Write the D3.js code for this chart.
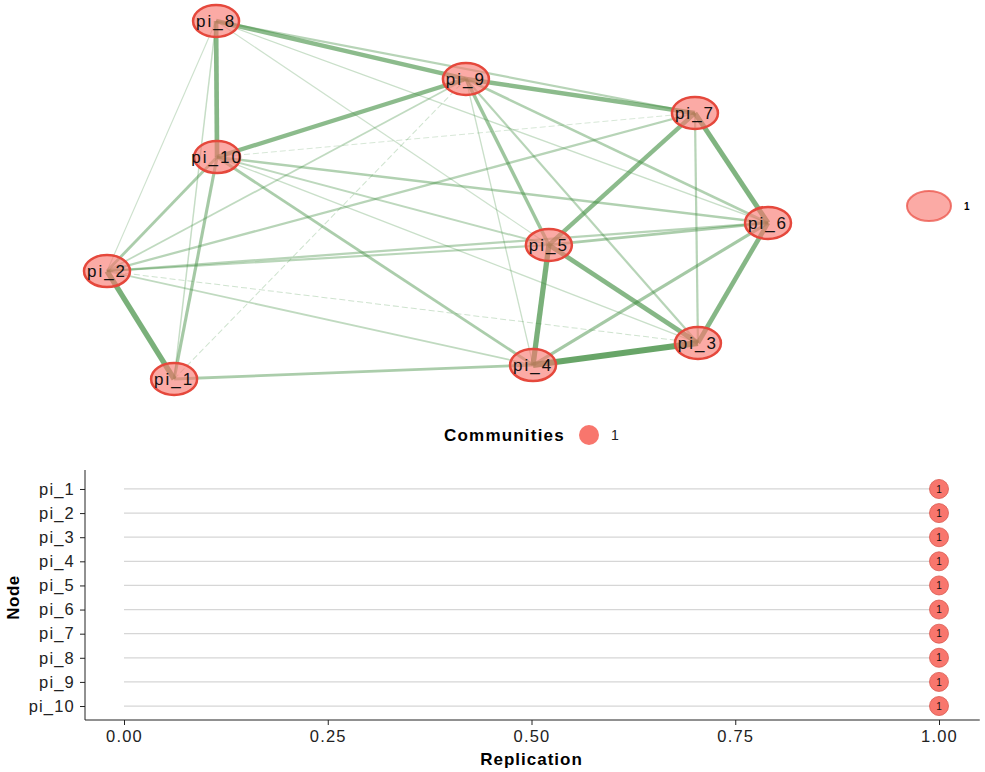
<!DOCTYPE html>
<html lang="en">
    <head>
        <meta charset="utf-8">
        <title>Network and replication</title>
        <script src="https://d3js.org/d3.v7.min.js"></script>
        <style type="text/css">
            body { margin: 0; background: #fff; }
            svg text { font-family: "Liberation Sans", Arial, sans-serif; }
            .axis path, .axis line { stroke: #222; }
            .axis text { font-size: 16.5px; fill: #222; letter-spacing: 1.2px; }
            .grid { stroke: #d6d6d6; stroke-width: 1.2; }
        </style>
    </head>
    <body>
        <script type="text/javascript">

            const w = 985;
            const h = 772;

            // node names and the layout (normalised -1..1, as qgraph gives it)
            const nodes = ["pi_1", "pi_2", "pi_3", "pi_4", "pi_5", "pi_6", "pi_7", "pi_8", "pi_9", "pi_10"];
            const layoutX = [-0.797, -1, 0.788, 0.289, 0.337, 1, 0.779, -0.670, 0.086, -0.667];
            const layoutY = [-1, -0.397, -0.799, -0.922, -0.251, -0.128, 0.486, 1, 0.676, 0.240];
            const community = [1, 1, 1, 1, 1, 1, 1, 1, 1, 1];
            const replication = [1, 1, 1, 1, 1, 1, 1, 1, 1, 1];

            // edges: [from, to, weight] (node numbers)
            const edges = [
                [1, 2, 0.8], [1, 10, 0.45], [1, 4, 0.4], [1, 8, 0.18], [1, 9, 0.1],
                [2, 10, 0.4], [2, 8, 0.12], [2, 9, 0.22], [2, 7, 0.3], [2, 6, 0.3],
                [2, 5, 0.28], [2, 4, 0.22], [2, 3, 0.1],
                [8, 10, 0.7], [8, 9, 0.65], [8, 7, 0.3], [8, 6, 0.15], [8, 5, 0.12],
                [9, 10, 0.65], [9, 7, 0.65], [9, 5, 0.5], [9, 6, 0.35], [9, 3, 0.3], [9, 4, 0.15],
                [10, 6, 0.35], [10, 5, 0.25], [10, 3, 0.15], [10, 4, 0.4], [10, 7, 0.08],
                [5, 7, 0.65], [5, 4, 0.8], [5, 3, 0.7], [5, 6, 0.4],
                [7, 6, 0.75], [7, 3, 0.3], [6, 3, 0.7], [6, 4, 0.45], [4, 3, 0.95]
            ];

            const xTicks = [0, 0.25, 0.5, 0.75, 1];

            const svg = d3.select("body").append("svg").attr("width", w).attr("height", h);

            // ---- network ----
            const nx = d3.scaleLinear().domain([-1, 1]).range([107, 768]);
            const ny = d3.scaleLinear().domain([-1, 1]).range([379, 21]);
            const widthScale = d3.scaleLinear().domain([0, 1]).range([0.4, 6.5]);
            const alphaScale = d3.scaleLinear().domain([0, 1]).range([0.18, 0.8]);

            const sorted = edges.slice().sort((a, b) => a[2] - b[2]);
            svg.append("g").selectAll("line")
                .data(sorted)
                .enter().append("line")
                .attr("x1", d => nx(layoutX[d[0] - 1]))
                .attr("y1", d => ny(layoutY[d[0] - 1]))
                .attr("x2", d => nx(layoutX[d[1] - 1]))
                .attr("y2", d => ny(layoutY[d[1] - 1]))
                .attr("stroke", "#3a8a3a")
                .attr("stroke-opacity", d => alphaScale(d[2]))
                .attr("stroke-width", d => widthScale(d[2]))
                .attr("stroke-dasharray", d => d[2] < 0.11 ? "6 3" : null);

            const nodeG = svg.append("g").selectAll("g")
                .data(nodes)
                .enter().append("g")
                .attr("transform", (d, i) => `translate(${nx(layoutX[i])},${ny(layoutY[i])})`);

            nodeG.append("ellipse")
                .attr("rx", 23).attr("ry", 16)
                .attr("fill", "rgba(248,118,109,0.62)")
                .attr("stroke", "#e5483c")
                .attr("stroke-width", 2.5);

            nodeG.append("text")
                .attr("text-anchor", "middle")
                .attr("dy", "0.36em")
                .style("font-size", "17px")
                .style("letter-spacing", "2px")
                .attr("fill", "#111")
                .text(d => d);

            // right legend of the network
            svg.append("ellipse")
                .attr("cx", 929).attr("cy", 206).attr("rx", 22).attr("ry", 15)
                .attr("fill", "rgba(248,118,109,0.62)")
                .attr("stroke", "rgba(235,80,70,0.75)")
                .attr("stroke-width", 2);
            svg.append("text")
                .attr("x", 964).attr("y", 210)
                .style("font-size", "10px").style("font-weight", "bold")
                .text(d3.max(community));

            // ---- communities legend ----
            svg.append("text")
                .attr("x", 444).attr("y", 441)
                .style("font-size", "17px").style("font-weight", "bold")
                .style("letter-spacing", "1.2px")
                .text("Communities");
            svg.append("circle")
                .attr("cx", 589).attr("cy", 435).attr("r", 10)
                .attr("fill", "#F8766D");
            svg.append("text")
                .attr("x", 611).attr("y", 440)
                .style("font-size", "14px")
                .attr("fill", "#222")
                .text("1");

            // ---- replication plot ----
            const xScale = d3.scaleLinear().domain([-0.05, 1.05]).range([83.25, 979.75]);
            const yScale = d3.scalePoint().domain(nodes).range([474.5, 720.5]).padding(0.6);
            const axisY = 720;
            const axisX = 85;

            svg.append("g").selectAll("line")
                .data(nodes)
                .enter().append("line")
                .attr("class", "grid")
                .attr("x1", xScale(0))
                .attr("x2", (d, i) => xScale(replication[i]))
                .attr("y1", d => yScale(d))
                .attr("y2", d => yScale(d));

            const bottomAxis = d3.axisBottom(xScale).tickValues(xTicks)
                .tickFormat(d3.format(".2f")).tickSizeInner(5).tickSizeOuter(0).tickPadding(5);
            const gx = svg.append("g")
                .attr("class", "axis")
                .attr("transform", "translate(0," + axisY + ")")
                .call(bottomAxis);
            gx.select(".domain").attr("d", `M${axisX},0H${xScale(1.05)}`);

            const leftAxis = d3.axisLeft(yScale).tickSizeInner(5).tickSizeOuter(0).tickPadding(5);
            const gy = svg.append("g")
                .attr("class", "axis")
                .attr("transform", "translate(" + axisX + ",0)")
                .call(leftAxis);
            gy.select(".domain").attr("d", `M0,470V${axisY}`);

            const pts = svg.append("g").selectAll("g")
                .data(nodes)
                .enter().append("g")
                .attr("transform", (d, i) => `translate(${xScale(replication[i])},${yScale(d)})`);
            pts.append("circle")
                .attr("r", 9.5)
                .attr("fill", "#F8766D")
                .attr("stroke", "#d9594f")
                .attr("stroke-width", 0.8);
            pts.append("text")
                .attr("text-anchor", "middle")
                .attr("dy", "0.36em")
                .style("font-size", "10px")
                .attr("fill", "#111")
                .text((d, i) => community[i]);

            svg.append("text")
                .attr("x", xScale(0.5)).attr("y", 765)
                .attr("text-anchor", "middle")
                .style("font-size", "17px").style("font-weight", "bold")
                .style("letter-spacing", "1px")
                .text("Replication");

            svg.append("text")
                .attr("transform", `translate(19,${(yScale("pi_5") + yScale("pi_6")) / 2}) rotate(-90)`)
                .attr("text-anchor", "middle")
                .style("font-size", "17px").style("font-weight", "bold")
                .style("letter-spacing", "0.5px")
                .text("Node");
        </script>
    </body>
</html>
